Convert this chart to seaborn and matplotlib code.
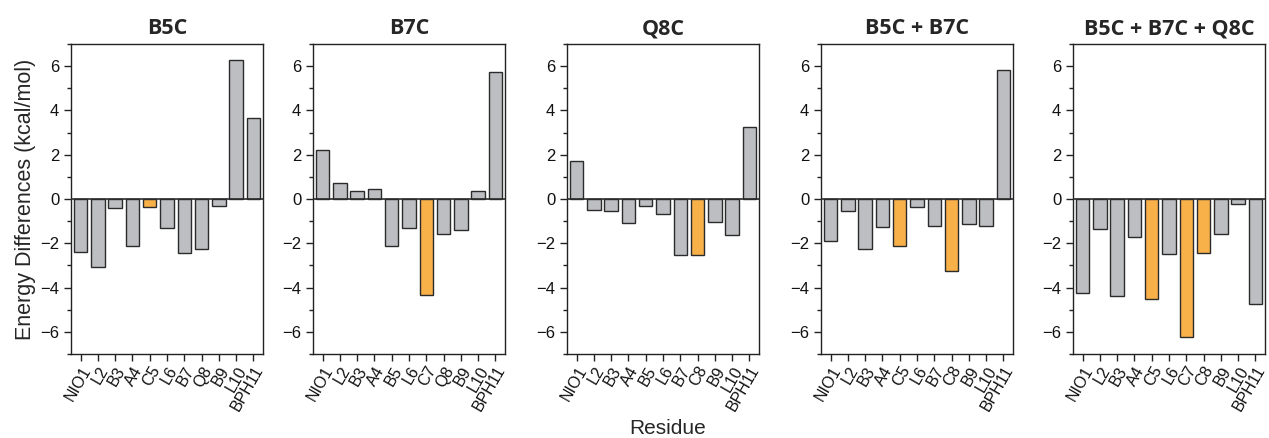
import matplotlib
matplotlib.use("Agg")
import matplotlib.pyplot as plt
import seaborn as sns
import pandas as pd
from matplotlib.ticker import MultipleLocator

titles = ["B5C", "B7C", "Q8C", "B5C + B7C", "B5C + B7C + Q8C"]

res_b5c = ["NIO1", "L2", "B3", "A4", "C5", "L6", "B7", "Q8", "B9", "L10", "BPH11"]
res_b7c = ["NIO1", "L2", "B3", "A4", "B5", "L6", "C7", "Q8", "B9", "L10", "BPH11"]
res_q8c = ["NIO1", "L2", "B3", "A4", "B5", "L6", "B7", "C8", "B9", "L10", "BPH11"]
res_b5c_b7c = ["NIO1", "L2", "B3", "A4", "C5", "L6", "B7", "C8", "B9", "L10", "BPH11"]
res_triple = ["NIO1", "L2", "B3", "A4", "C5", "L6", "C7", "C8", "B9", "L10", "BPH11"]

val_b5c = [-2.40, -3.09, -0.42, -2.13, -0.36, -1.29, -2.45, -2.25, -0.33, 6.29, 3.65]
val_b7c = [2.22, 0.71, 0.38, 0.44, -2.10, -1.31, -4.32, -1.59, -1.38, 0.35, 5.72]
val_q8c = [1.73, -0.51, -0.56, -1.07, -0.33, -0.69, -2.55, -2.52, -1.05, -1.61, 3.26]
val_b5c_b7c = [-1.88, -0.56, -2.27, -1.28, -2.10, -0.35, -1.23, -3.23, -1.13, -1.23, 5.83]
val_triple = [-4.23, -1.34, -4.40, -1.73, -4.50, -2.49, -6.23, -2.45, -1.58, -0.21, -4.73]

hl_b5c = ["C5"]
hl_b7c = ["C7"]
hl_q8c = ["C8"]
hl_b5c_b7c = ["C5", "C8"]
hl_triple = ["C5", "C7", "C8"]

panels = [
    (res_b5c, val_b5c, hl_b5c),
    (res_b7c, val_b7c, hl_b7c),
    (res_q8c, val_q8c, hl_q8c),
    (res_b5c_b7c, val_b5c_b7c, hl_b5c_b7c),
    (res_triple, val_triple, hl_triple),
]

GREY = "#BDBEC2"
ORANGE = "#F8B049"
EDGE = "#2b2b2b"

sns.set_style("ticks")
plt.rcParams["font.family"] = ["Liberation Sans", "DejaVu Sans"]

fig = plt.figure(figsize=(12.69, 4.38), dpi=100)
W, H = 1269, 438
lefts = [71, 313, 567, 821, 1073]
ax_w = 192
ax_top, ax_bot = 44, 354

for i, (title, (res, vals, hl)) in enumerate(zip(titles, panels)):
    ax = fig.add_axes([lefts[i] / W, 1 - ax_bot / H, ax_w / W, (ax_bot - ax_top) / H])
    df = pd.DataFrame({
        "Residue": res,
        "Energy": vals,
        "kind": ["hl" if r in hl else "base" for r in res],
    })
    sns.barplot(data=df, x="Residue", y="Energy", hue="kind",
                palette={"hl": ORANGE, "base": GREY}, dodge=False,
                order=res, width=0.78, edgecolor=EDGE, linewidth=1.0,
                legend=False, ax=ax, saturation=1)
    ax.axhline(0, color=EDGE, linewidth=1.2, zorder=5)
    ax.set_ylim(-7, 7)
    ax.set_xlim(-0.55, 10.55)
    ax.yaxis.set_major_locator(MultipleLocator(2))
    ax.yaxis.set_minor_locator(MultipleLocator(1))
    ax.tick_params(axis="both", which="major", direction="out", length=5,
                   width=1, labelsize=12, color="#222222", labelcolor="#111111")
    ax.tick_params(axis="y", which="minor", direction="out", length=3, width=1,
                   color="#222222")
    ax.tick_params(axis="x", labelsize=11.5, pad=2)
    for lbl in ax.get_xticklabels():
        lbl.set_rotation(60)
        lbl.set_ha("right")
        lbl.set_rotation_mode("anchor")
    for sp in ax.spines.values():
        sp.set_visible(True)
        sp.set_linewidth(1.0)
        sp.set_color("#222222")
    ax.set_xlabel("")
    ax.set_ylabel("")
    ax.set_title(title, fontsize=15.5, fontweight="bold",
                 family=["Open Sans", "DejaVu Sans"], pad=7)
    if i == 0:
        ax.set_ylabel("Energy Differences (kcal/mol)", fontsize=15.5, labelpad=3)

fig.text(668 / W, 1 - 428 / H, "Residue", ha="center", va="center", fontsize=15)

fig.savefig("out.png", dpi=100)
